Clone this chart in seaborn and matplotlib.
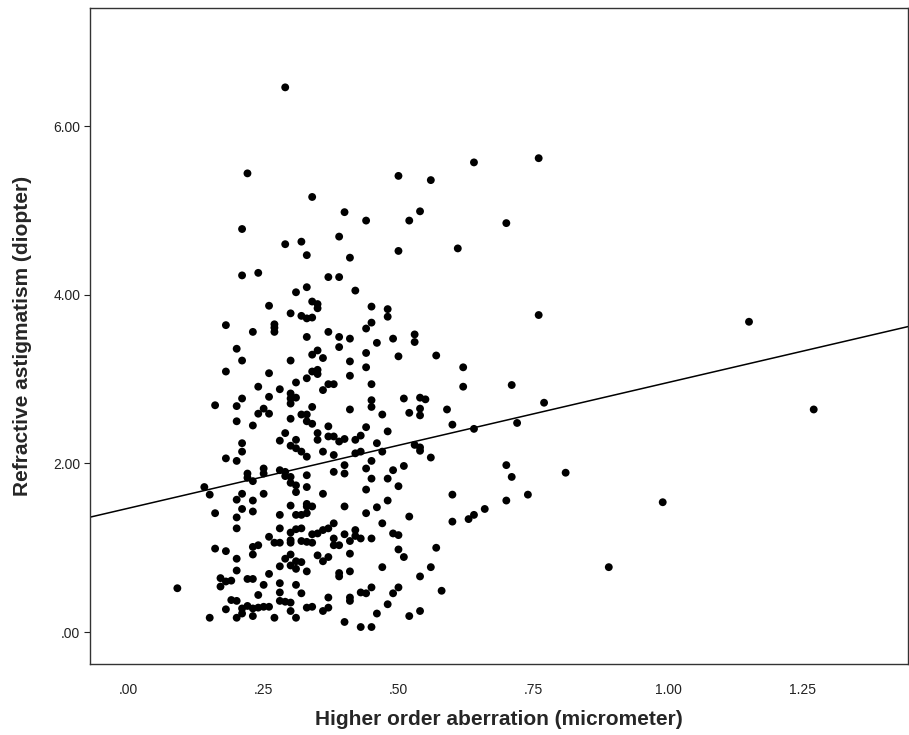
import matplotlib
matplotlib.use("Agg")
import matplotlib.pyplot as plt
import numpy as np
import pandas as pd
import seaborn as sns

# Higher order aberration (micrometer) and refractive astigmatism (diopter), one pair per eye
hoa = (
    [0.09] + [0.14] + [0.15] * 2 + [0.16] * 3 + [0.17] * 2 + [0.18] * 6 + [0.19] * 2
    + [0.20] * 11 + [0.21] * 10 + [0.22] * 5 + [0.23] * 10 + [0.24] * 6 + [0.25] * 6
    + [0.26] * 7 + [0.27] * 5 + [0.28] * 10 + [0.29] * 7 + [0.30] * 17 + [0.31] * 13
    + [0.32] * 9 + [0.33] * 16 + [0.34] * 11 + [0.35] * 9 + [0.36] * 7 + [0.37] * 9
    + [0.38] * 7 + [0.39] * 8 + [0.40] * 7 + [0.41] * 10 + [0.42] * 5 + [0.43] * 5
    + [0.44] * 9 + [0.45] * 10 + [0.46] * 4 + [0.47] * 4 + [0.48] * 6 + [0.49] * 4
    + [0.50] * 7 + [0.51] * 3 + [0.52] * 4 + [0.53] * 3 + [0.54] * 8 + [0.55]
    + [0.56] * 3 + [0.57] * 2 + [0.58] + [0.59] + [0.60] * 3 + [0.61] + [0.62] * 2
    + [0.63] + [0.64] * 3 + [0.66] + [0.70] * 3 + [0.71] * 2 + [0.72] + [0.74]
    + [0.76] * 2 + [0.77] + [0.81] + [0.89] + [0.99] + [1.15] + [1.27]
)
astig = [
    0.52,
    1.72,
    1.63, 0.17,
    2.69, 1.41, 0.99,
    0.64, 0.54,
    3.64, 3.09, 2.06, 0.96, 0.60, 0.27,
    0.61, 0.38,
    3.36, 2.68, 2.50, 2.03, 1.57, 1.36, 1.23, 0.87, 0.73, 0.37, 0.17,
    4.78, 4.23, 3.22, 2.77, 2.24, 2.14, 1.64, 1.46, 0.28, 0.22,
    5.44, 1.88, 1.83, 0.63, 0.31,
    3.56, 2.45, 1.79, 1.56, 1.43, 1.01, 0.92, 0.63, 0.28, 0.19,
    4.26, 2.91, 2.59, 1.03, 0.44, 0.29,
    2.65, 1.94, 1.88, 1.64, 0.56, 0.30,
    3.87, 3.07, 2.79, 2.59, 1.13, 0.69, 0.30,
    3.65, 3.61, 3.56, 1.06, 0.17,
    2.88, 2.27, 1.92, 1.39, 1.23, 1.06, 0.78, 0.58, 0.47, 0.37,
    6.46, 4.60, 2.36, 1.90, 1.85, 0.87, 0.36,
    3.78, 3.22, 2.83, 2.77, 2.71, 2.53, 2.21, 1.84, 1.77, 1.50, 1.18, 1.09, 1.06, 0.92,
    0.79, 0.35, 0.25,
    4.03, 2.96, 2.78, 2.28, 2.18, 1.74, 1.66, 1.39, 1.22, 0.84, 0.75, 0.56, 0.17,
    4.63, 3.75, 2.58, 2.14, 1.39, 1.23, 1.08, 0.83, 0.46,
    4.47, 4.09, 3.72, 3.50, 3.01, 2.58, 2.50, 2.08, 1.86, 1.72, 1.52, 1.49, 1.41, 1.07,
    0.72, 0.29,
    5.16, 3.92, 3.73, 3.29, 3.09, 2.67, 2.47, 1.49, 1.16, 1.06, 0.30,
    3.89, 3.84, 3.34, 3.11, 3.06, 2.36, 2.28, 1.17, 0.91,
    3.25, 2.87, 2.14, 1.64, 1.21, 0.84, 0.25,
    4.21, 3.56, 2.94, 2.44, 2.32, 1.23, 0.89, 0.41, 0.29,
    2.94, 2.32, 2.10, 1.90, 1.29, 1.11, 1.03,
    4.69, 4.21, 3.50, 3.38, 2.26, 1.03, 0.70, 0.66,
    4.98, 2.29, 1.98, 1.88, 1.49, 1.16, 0.12,
    4.44, 3.48, 3.21, 3.04, 2.64, 1.08, 0.93, 0.72, 0.41, 0.37,
    4.05, 2.28, 2.12, 1.21, 1.14,
    2.33, 2.14, 1.11, 0.47, 0.06,
    4.88, 3.60, 3.31, 3.14, 2.43, 1.94, 1.69, 1.41, 0.46,
    3.86, 3.67, 2.94, 2.75, 2.67, 2.03, 1.82, 1.11, 0.53, 0.06,
    3.43, 2.24, 1.48, 0.22,
    2.58, 2.14, 1.29, 0.77,
    3.83, 3.74, 2.38, 1.82, 1.56, 0.33,
    3.48, 1.92, 1.17, 0.46,
    5.41, 4.52, 3.27, 1.73, 1.15, 0.98, 0.53,
    2.77, 1.97, 0.89,
    4.88, 2.60, 1.37, 0.19,
    3.53, 3.44, 2.22,
    4.99, 2.78, 2.65, 2.57, 2.19, 2.15, 0.66, 0.25,
    2.76,
    5.36, 2.07, 0.77,
    3.28, 1.00,
    0.49,
    2.64,
    2.46, 1.63, 1.31,
    4.55,
    3.14, 2.91,
    1.34,
    5.57, 2.41, 1.39,
    1.46,
    4.85, 1.98, 1.56,
    2.93, 1.84,
    2.48,
    1.63,
    5.62, 3.76,
    2.72,
    1.89,
    0.77,
    1.54,
    3.68,
    2.64,
]

# Linear fit line: astigmatism = intercept + slope * HOA
fit_intercept = 1.47
fit_slope = 1.49

x_ticks = [0.00, 0.25, 0.50, 0.75, 1.00, 1.25]
x_tick_labels = [".00", ".25", ".50", ".75", "1.00", "1.25"]
y_ticks = [0.0, 2.0, 4.0, 6.0]
y_tick_labels = [".00", "2.00", "4.00", "6.00"]

df = pd.DataFrame({"hoa": hoa, "astig": astig})

sns.set_style("white")
plt.rcParams["font.family"] = ["Liberation Sans", "DejaVu Sans"]

fig = plt.figure(figsize=(9.09, 7.35), dpi=100)
ax = fig.add_axes([0.099, 0.097, 0.9, 0.892])

xlim = (-0.072, 1.445)
ylim = (-0.375, 7.40)

sns.scatterplot(data=df, x="hoa", y="astig", ax=ax, color="black", s=32,
                edgecolor="none", linewidth=0, zorder=3)

line_x = np.array(xlim)
line_df = pd.DataFrame({"x": line_x, "y": fit_intercept + fit_slope * line_x})
sns.lineplot(data=line_df, x="x", y="y", ax=ax, color="black", linewidth=1.1, zorder=2)

ax.set_xlim(*xlim)
ax.set_ylim(*ylim)
ax.set_xticks(x_ticks)
ax.set_xticklabels(x_tick_labels)
ax.set_yticks(y_ticks)
ax.set_yticklabels(y_tick_labels)
ax.tick_params(axis="x", length=0, labelsize=10, pad=14, colors="#222222")
ax.tick_params(axis="y", length=4, width=0.8, labelsize=10, pad=3, colors="#222222",
               left=True, direction="out")

for side in ax.spines.values():
    side.set_visible(True)
    side.set_color("#333333")
    side.set_linewidth(1.0)

ax.set_xlabel("Higher order aberration (micrometer)", fontsize=15, fontweight="bold",
              labelpad=9)
ax.set_ylabel("Refractive astigmatism (diopter)", fontsize=15, fontweight="bold",
              labelpad=15)

fig.savefig("out.png", dpi=100, facecolor="white")
